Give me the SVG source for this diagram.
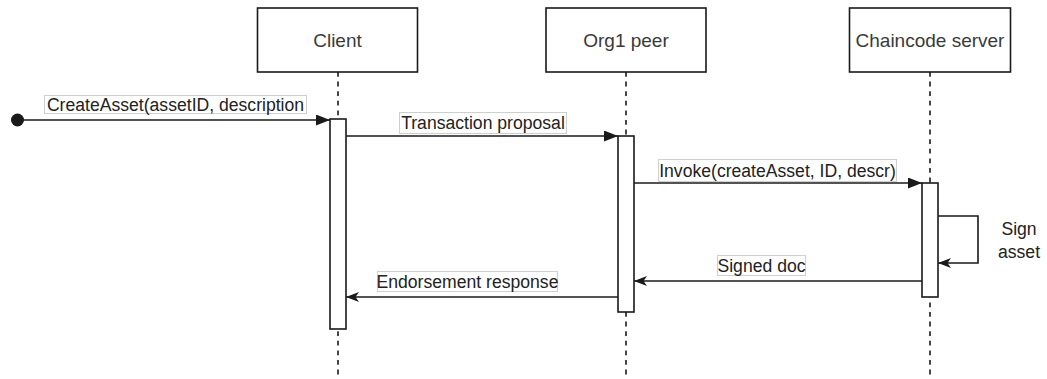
<svg xmlns="http://www.w3.org/2000/svg" width="1047" height="379" viewBox="0 0 1047 379">
  <style>
    .head { fill: #ffffff; stroke: #1a1a1a; stroke-width: 1.6; }
    .head-text { font-family: "Liberation Sans", Arial, sans-serif; font-size: 19px; fill: #3a3a3a; text-anchor: middle; }
    .life { stroke: #1a1a1a; stroke-width: 1.6; stroke-dasharray: 4.8 4.8; fill: none; }
    .bar { fill: #ffffff; stroke: #1a1a1a; stroke-width: 1.6; }
    .msg { stroke: #1a1a1a; stroke-width: 1.6; fill: none; }
    .call { marker-end: url(#block); }
    .ret { marker-end: url(#classic); }
    .lbl-box { fill: #ffffff; stroke: #cfcfcf; stroke-width: 1; }
    .lbl { font-family: "Liberation Sans", Arial, sans-serif; font-size: 17.6px; fill: #222222; text-anchor: middle; }
  </style>
  <defs>
    <marker id="block" markerUnits="userSpaceOnUse" markerWidth="15" markerHeight="12" refX="14" refY="5.5" orient="auto">
      <path d="M0,0 L14,5.5 L0,11 Z" fill="#1a1a1a"/>
    </marker>
    <marker id="classic" markerUnits="userSpaceOnUse" markerWidth="14" markerHeight="11" refX="13" refY="5" orient="auto">
      <path d="M0,0 L13,5 L0,10 L3.5,5 Z" fill="#1a1a1a"/>
    </marker>
  </defs>

  <rect width="1047" height="379" fill="#ffffff"/>

  <!-- lifelines -->
  <g id="lifelines">
    <line class="life" x1="338" y1="72" x2="338" y2="379"/>
    <line class="life" x1="626" y1="72" x2="626" y2="379"/>
    <line class="life" x1="930" y1="72" x2="930" y2="379"/>
  </g>

  <!-- participants -->
  <g id="client">
    <rect class="head" x="257.5" y="8" width="160" height="64"/>
    <text class="head-text" x="337.5" y="46.5">Client</text>
    <rect class="bar" x="330" y="119" width="16" height="210"/>
  </g>
  <g id="org1-peer">
    <rect class="head" x="546" y="8" width="160" height="64"/>
    <text class="head-text" x="626" y="46.5">Org1 peer</text>
    <rect class="bar" x="618" y="136" width="16" height="176"/>
  </g>
  <g id="chaincode-server">
    <rect class="head" x="849.5" y="8" width="161" height="64"/>
    <text class="head-text" x="930" y="46.5">Chaincode server</text>
    <rect class="bar" x="922" y="183" width="16" height="114"/>
  </g>

  <!-- messages -->
  <g id="connectors">
    <circle cx="17.5" cy="120" r="6.5" fill="#1a1a1a"/>
    <line class="msg call" x1="17.5" y1="120" x2="330" y2="120"/>
    <rect class="lbl-box" x="44.5" y="95.5" width="262" height="18"/>
    <text class="lbl" x="175.5" y="110.5">CreateAsset(assetID, description</text>

    <line class="msg call" x1="346" y1="136" x2="618" y2="136"/>
    <rect class="lbl-box" x="399.5" y="112.5" width="167" height="21"/>
    <text class="lbl" x="483" y="129">Transaction proposal</text>

    <line class="msg call" x1="634" y1="183" x2="922" y2="183"/>
    <rect class="lbl-box" x="658.5" y="159.5" width="238" height="22"/>
    <text class="lbl" x="777.5" y="177">Invoke(createAsset, ID, descr)</text>

    <polyline class="msg ret" points="938,216 978,216 978,263 938,263"/>
    <text class="lbl" x="1019" y="235">Sign</text>
    <text class="lbl" x="1019" y="258">asset</text>

    <line class="msg ret" x1="922" y1="281" x2="634" y2="281"/>
    <rect class="lbl-box" x="717.5" y="255.5" width="88" height="20"/>
    <text class="lbl" x="761.5" y="271.5">Signed doc</text>

    <line class="msg ret" x1="618" y1="297" x2="346" y2="297"/>
    <rect class="lbl-box" x="377.5" y="271.5" width="180" height="20"/>
    <text class="lbl" x="467.5" y="287.5">Endorsement response</text>
  </g>
</svg>
